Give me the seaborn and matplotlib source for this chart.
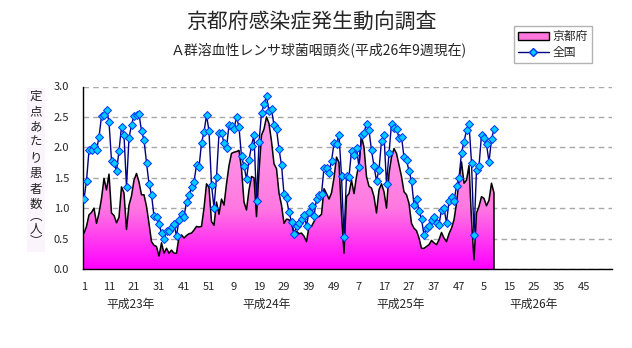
import numpy as np
import pandas as pd
import matplotlib
matplotlib.use("Agg")
import matplotlib.pyplot as plt
import seaborn as sns
from matplotlib.patches import Patch, Rectangle
from matplotlib.lines import Line2D

# ---------------- data (weekly, H23 wk1 .. H26 wk9) ----------------
kyoto = [
    0.59, 0.70, 0.89, 0.93, 1.00, 0.75, 0.92, 1.16, 1.49, 1.30,
    1.56, 0.92, 0.88, 0.76, 0.85, 1.35, 1.25, 0.65, 1.05, 1.20,
    1.46, 1.57, 1.43, 1.22, 1.22, 1.03, 0.75, 0.45, 0.39, 0.37,
    0.21, 0.43, 0.26, 0.34, 0.26, 0.31, 0.26, 0.26, 0.53, 0.56,
    0.51, 0.55, 0.58, 0.59, 0.64, 0.70, 0.69, 0.70, 1.00, 1.40,
    1.34, 0.78, 0.72, 1.10, 0.90, 1.15, 1.05, 1.40, 1.70, 1.90,
    1.92, 1.93, 1.95, 1.65, 1.10, 0.97, 1.30, 1.52, 1.50, 0.86,
    1.60, 2.20, 2.30, 2.50, 2.39, 2.10, 1.73, 1.65, 1.25, 1.05,
    0.75, 0.82, 0.81, 0.75, 0.59, 0.62, 0.58, 0.59, 0.54, 0.45,
    0.70, 0.70, 0.78, 0.86, 0.86, 0.90, 1.32, 1.24, 1.15, 1.25,
    1.50, 1.84, 1.75, 0.90, 0.26, 1.19, 1.24, 1.46, 1.24, 1.52,
    1.73, 2.18, 2.00, 1.52, 1.36, 1.33, 1.19, 0.92, 1.30, 1.40,
    1.27, 1.00, 1.57, 1.84, 1.98, 1.90, 1.71, 1.52, 1.27, 1.22,
    1.08, 0.75, 0.67, 0.63, 0.51, 0.34, 0.34, 0.37, 0.40, 0.47,
    0.43, 0.40, 0.48, 0.60, 0.51, 0.45, 0.58, 0.67, 0.81, 1.08,
    1.46, 1.76, 1.41, 1.46, 1.70, 0.81, 0.15, 0.92, 1.03, 1.19,
    1.16, 1.04, 1.13, 1.41, 1.25,
]
national = [
    1.15, 1.45, 1.95, 1.96, 2.03, 1.95, 2.17, 2.51, 2.53, 2.62,
    2.42, 1.78, 1.75, 1.61, 1.94, 2.34, 2.20, 1.35, 2.15, 2.37,
    2.52, 2.53, 2.55, 2.27, 2.12, 1.75, 1.40, 1.22, 0.87, 0.86,
    0.74, 0.59, 0.50, 0.62, 0.62, 0.69, 0.74, 0.54, 0.81, 0.91,
    0.86, 1.10, 1.21, 1.34, 1.43, 1.71, 1.67, 2.07, 2.25, 2.53,
    2.27, 1.38, 1.01, 1.51, 2.23, 2.23, 2.07, 1.99, 2.37, 2.35,
    2.30, 2.50, 2.33, 1.85, 1.69, 1.48, 1.79, 2.03, 2.20, 1.11,
    2.08, 2.56, 2.71, 2.84, 2.59, 2.63, 2.36, 2.30, 1.97, 1.71,
    1.23, 1.16, 0.93, 0.78, 0.58, 0.70, 0.75, 0.82, 0.89, 0.71,
    0.94, 1.03, 0.87, 1.15, 1.22, 1.23, 1.66, 1.66, 1.58, 1.77,
    2.07, 2.05, 2.21, 1.53, 0.53, 1.53, 1.52, 1.94, 1.87, 1.99,
    1.67, 2.21, 2.24, 2.39, 2.28, 1.95, 1.69, 1.45, 1.63, 2.11,
    2.20, 1.40, 1.90, 2.39, 2.32, 2.30, 2.16, 2.17, 1.84, 1.79,
    1.61, 1.45, 1.05, 1.15, 0.96, 0.82, 0.56, 0.68, 0.70, 0.81,
    0.86, 0.75, 0.73, 0.97, 1.00, 0.76, 1.11, 1.18, 1.12, 1.36,
    1.50, 1.91, 2.09, 2.28, 2.39, 1.75, 0.56, 1.63, 1.69, 2.21,
    2.15, 2.05, 1.76, 2.13, 2.30,
]
tick_labels = ["1", "11", "21", "31", "41", "51", "9", "19", "29", "39", "49",
               "7", "17", "27", "37", "47", "5", "15", "25", "35", "45"]
year_labels = ["平成23年", "平成24年", "平成25年", "平成26年"]
series_names = ["京都府", "全国"]
title = "京都府感染症発生動向調査"
subtitle = "Ａ群溶血性レンサ球菌咽頭炎(平成26年9週現在)"
ylabel_chars = ["定", "点", "あ", "た", "り", "患", "者", "数", "︵", "人", "︶"]

# ---------------- style ----------------
sns.set_style("white")
plt.rcParams['font.family'] = ['Noto Sans CJK JP', 'DejaVu Sans']

W, H = 632, 348
weeks = np.arange(1, len(national) + 1)
df = pd.DataFrame({"week": weeks, "kyoto": kyoto, "national": national})

fig = plt.figure(figsize=(W / 100, H / 100), dpi=100)
fig.patch.set_facecolor("white")
ax_left, ax_right, ax_bottom, ax_top = 83, 612, 269, 86.5
ax = fig.add_axes([ax_left / W, 1 - ax_bottom / H,
                   (ax_right - ax_left) / W, (ax_bottom - ax_top) / H])
XMIN, XMAX = 0.6, 212.2
ax.set_xlim(XMIN, XMAX)
ax.set_ylim(0, 3.0)

# gridlines
ax.set_yticks(np.arange(0, 3.01, 0.5))
ax.yaxis.grid(True, color="#A8A8A8", linestyle=(0, (4, 3)), linewidth=1.0)
ax.xaxis.grid(False)
ax.set_axisbelow(True)

# gradient area for Kyoto
poly = ax.fill_between(df["week"], 0, df["kyoto"], facecolor="none",
                       edgecolor="none", zorder=2)
yy = np.linspace(0, 3, 300)
r = np.full_like(yy, 255.0)
g = np.interp(yy, [0, 1.0, 3.0], [0, 120, 175])
b = np.interp(yy, [0, 1.0, 3.0], [255, 225, 235])
grad = np.stack([r, g, b], axis=-1)[:, None, :] / 255.0
im = ax.imshow(grad, extent=[XMIN, XMAX, 0, 3], aspect="auto",
               origin="lower", zorder=2, interpolation="bilinear")
im.set_clip_path(poly.get_paths()[0], ax.transData)

# Kyoto outline (with closing edge at the last week)
ox = list(df["week"]) + [df["week"].iloc[-1]]
oy = list(df["kyoto"]) + [0]
ax.plot(ox, oy, color="black", linewidth=1.1, zorder=3)

# national line with diamond markers
sns.lineplot(data=df, x="week", y="national", ax=ax, color="#000080",
             linewidth=1.0, marker="D", markersize=3.7,
             markerfacecolor="#00CCFF", markeredgecolor="#0033FF",
             markeredgewidth=0.7, zorder=4, legend=False)

ax.set_xlabel("")
ax.set_ylabel("")

# axes cosmetics
for s in ["top", "right"]:
    ax.spines[s].set_visible(False)
for s in ["left", "bottom"]:
    ax.spines[s].set_color("black")
    ax.spines[s].set_linewidth(1.0)

major_pos = [1 + 10 * k for k in range(len(tick_labels))]
ax.set_xticks(major_pos)
ax.set_xticklabels(tick_labels, fontsize=8)
ax.set_xticks([1 + 5 * k for k in range(42)], minor=True)
ax.tick_params(axis="x", which="both", direction="in", length=4,
               color="black", pad=9)
ax.tick_params(axis="y", which="both", direction="in", length=4,
               color="black", pad=10, labelsize=8)
ax.set_yticklabels([f"{v:.1f}" for v in np.arange(0, 3.01, 0.5)])

# year labels
year_pos = [19.5, 74, 127.5, 181]
for xp, lab in zip(year_pos, year_labels):
    ax.text(xp, -(304 - ax_bottom) / (ax_bottom - ax_top) * 3.0, lab,
            ha="center", va="center", fontsize=8.5,
            transform=ax.transData, clip_on=False)

# titles
fig.text(311 / W, 1 - 22 / H, title, ha="center", va="center", fontsize=15)
fig.text(319 / W, 1 - 50 / H, subtitle, ha="center", va="center", fontsize=10)

# vertical y label
fig.patches.append(Rectangle((27 / W, 1 - 252 / H), 18 / W, 164 / H,
                             transform=fig.transFigure, facecolor="#FCF4FC",
                             edgecolor="none", zorder=0))
ys = [96 + 15.5 * k for k in range(8)] + [216, 229, 242]
for ch, yp in zip(ylabel_chars, ys):
    fig.text(36 / W, 1 - yp / H, ch, ha="center", va="center", fontsize=9)

# legend
handles = [
    Patch(facecolor="#FF77DD", edgecolor="black", linewidth=1.0,
          label=series_names[0]),
    Line2D([0], [0], color="#000080", linewidth=1.0, marker="D",
           markersize=3.7, markerfacecolor="#00CCFF",
           markeredgecolor="#0033FF", label=series_names[1]),
]
leg = fig.legend(handles=handles, loc="upper left",
                 bbox_to_anchor=(514 / W, 1 - 26 / H), frameon=True,
                 fancybox=False, edgecolor="#A0A0A0", fontsize=8.5,
                 handlelength=2.6, handleheight=0.6, borderpad=0.35,
                 labelspacing=0.25, handletextpad=0.3, borderaxespad=0)
leg.get_frame().set_linewidth(1.0)

fig.savefig("out.png", dpi=100, facecolor="white")
